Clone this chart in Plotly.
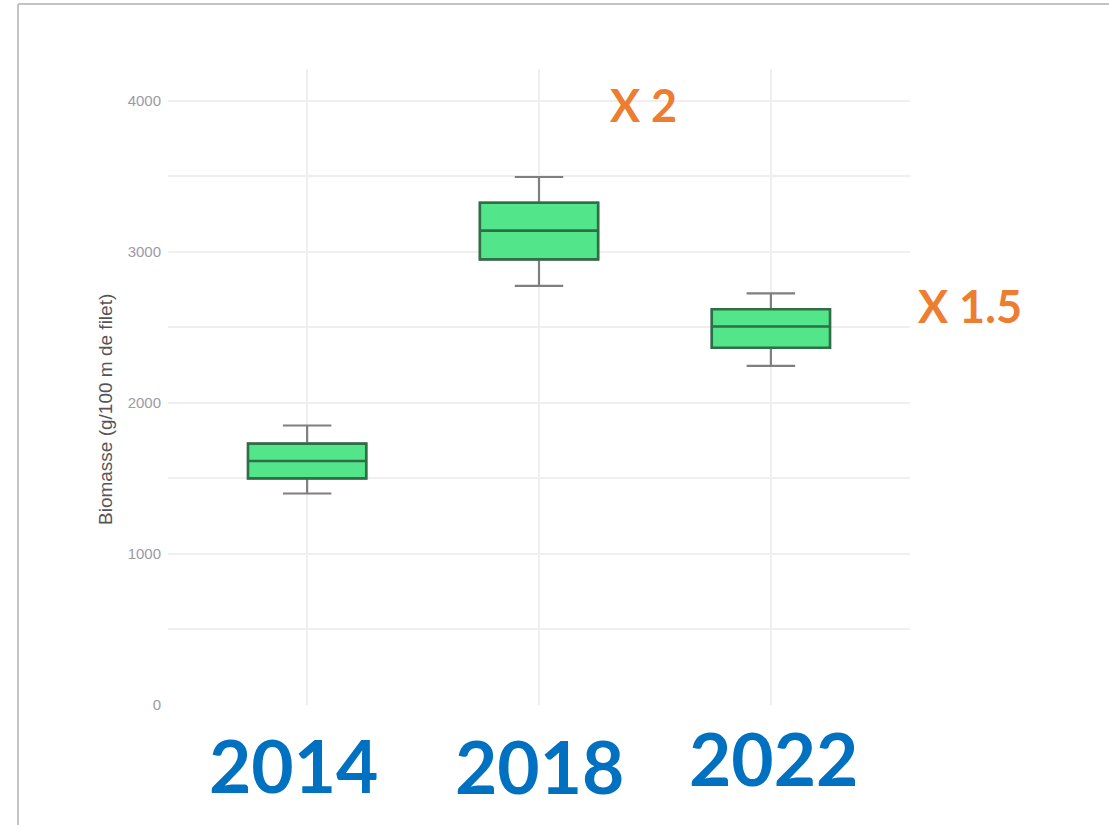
import plotly.graph_objects as go

years = ["2014", "2018", "2022"]
lower_whisker = [1400, 2775, 2245]
q1 = [1500, 2950, 2365]
median = [1615, 3140, 2505]
q3 = [1730, 3325, 2620]
upper_whisker = [1850, 3495, 2725]

y_ticks = [0, 1000, 2000, 3000, 4000]
y_title = "Biomasse (g/100 m de filet)"
factor_labels = ["X 2", "X 1.5"]
factor_x = [1.45, 2.86]
factor_y = [3970, 2640]

W, H = 1109, 825
L, R, T, B = 168, 199, 69, 120
pw, ph = W - L - R, H - T - B
XR = [-0.6, 2.6]

fig = go.Figure()
# whiskers (gray)
fig.add_trace(go.Box(
    x=years, q1=q1, median=median, q3=q3,
    lowerfence=lower_whisker, upperfence=upper_whisker,
    width=0.51, whiskerwidth=0.41,
    fillcolor="#52E58A", line=dict(color="#7f7f7f", width=2.2),
    boxpoints=False, showlegend=False, hoverinfo="skip",
))
# box body (dark green border and median)
fig.add_trace(go.Box(
    x=years, q1=q1, median=median, q3=q3,
    lowerfence=q1, upperfence=q3,
    width=0.51, whiskerwidth=0,
    fillcolor="#52E58A", line=dict(color="#2f6e47", width=2.6),
    boxpoints=False, showlegend=False,
))

annotations = []
# year labels
shifts = [(-14, 0), (0, -1), (3, 7)]
for i, (yr, (dx, dy)) in enumerate(zip(years, shifts)):
    annotations.append(dict(
        x=(i - XR[0]) / (XR[1] - XR[0]), y=(705 - 765) / ph, xref="paper", yref="paper",
        text=yr, showarrow=False, xanchor="center", yanchor="middle",
        xshift=dx, yshift=dy,
        font=dict(family="Lato, Open Sans, sans-serif", size=73, color="#0070C0", weight="bold"),
    ))
for t, fx, fy in zip(factor_labels, factor_x, factor_y):
    annotations.append(dict(
        x=(fx - XR[0]) / (XR[1] - XR[0]), y=fy, xref="paper", yref="y", text=t, showarrow=False,
        xanchor="center", yanchor="middle",
        font=dict(family="Lato, Open Sans, sans-serif", size=45, color="#ED7D31", weight="bold"),
    ))
annotations.append(dict(
    x=(105 - L) / pw, y=(705 - 410) / ph, xref="paper", yref="paper",
    text=y_title, textangle=-90, showarrow=False,
    xanchor="center", yanchor="middle",
    font=dict(family="Liberation Sans, Arial, sans-serif", size=19, color="#555555"),
))

shapes = [
    dict(type="line", xref="paper", yref="paper",
         x0=(18 - L) / pw, x1=(W - L) / pw, y0=1 + (T - 4) / ph, y1=1 + (T - 4) / ph,
         line=dict(color="#c4c4c4", width=2)),
    dict(type="line", xref="paper", yref="paper",
         x0=(18 - L) / pw, x1=(18 - L) / pw, y0=1 + (T - 4) / ph, y1=-(B) / ph,
         line=dict(color="#c4c4c4", width=2)),
]

fig.update_layout(
    width=W, height=H,
    margin=dict(l=L, r=R, t=T, b=B),
    paper_bgcolor="white", plot_bgcolor="white",
    annotations=annotations, shapes=shapes,
    xaxis=dict(
        type="category", categoryorder="array", categoryarray=years,
        range=XR, showgrid=True, gridcolor="#efefef", gridwidth=2,
        showticklabels=False, zeroline=False, showline=False, ticks="",
    ),
    yaxis=dict(
        range=[0, 4210], tickvals=y_ticks, ticktext=[str(v) for v in y_ticks],
        showgrid=True, gridcolor="#efefef", gridwidth=2,
        minor=dict(dtick=500, tick0=0, showgrid=True, gridcolor="#efefef", gridwidth=2),
        zeroline=False, showline=False, ticks="",
        ticklabelstandoff=6,
        tickfont=dict(family="Liberation Sans, Arial, sans-serif", size=15, color="#9a9aa8"),
    ),
)

fig.write_html("out.html", config={"displayModeBar": False},
               post_script="document.body.style.margin='0px';")
